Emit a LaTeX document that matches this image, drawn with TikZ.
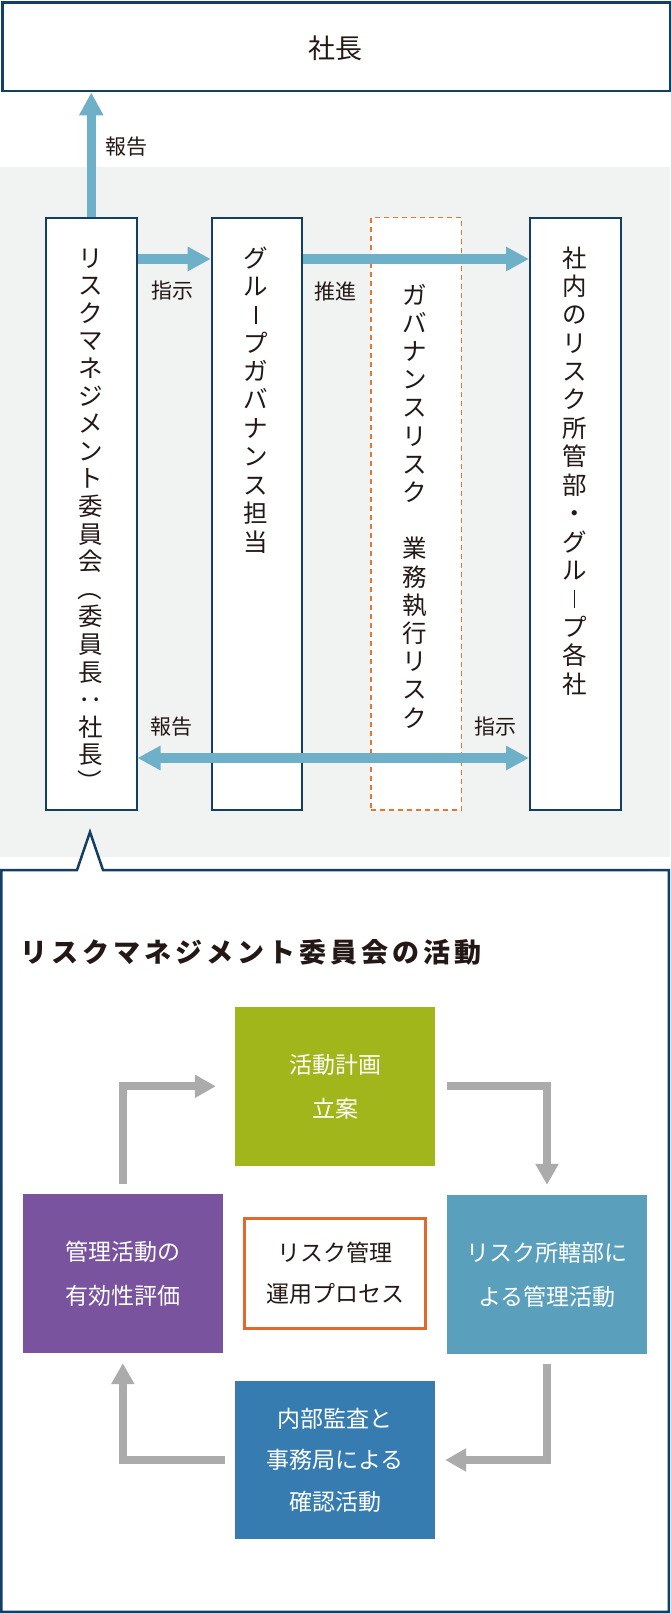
\documentclass[tikz,border=0pt]{standalone}
\usepackage{fontspec}
\usepackage{graphicx}
\setmainfont{Noto Sans CJK JP}
\usetikzlibrary{arrows.meta}

\definecolor{navy}{HTML}{123F63}
\definecolor{arrowblue}{HTML}{6EB0C8}
\definecolor{dashorange}{HTML}{E8772E}
\definecolor{panelgray}{HTML}{F1F3F2}
\definecolor{cgreen}{HTML}{A0B61A}
\definecolor{cpurple}{HTML}{7A539E}
\definecolor{cteal}{HTML}{5AA0BD}
\definecolor{cblue}{HTML}{367CB0}
\definecolor{cgrayarrow}{HTML}{ABABAB}
\definecolor{corange}{HTML}{E2692A}
\definecolor{ink}{HTML}{231815}

\ExplSyntaxOn
\NewDocumentCommand \vtext { m m }
  {
    \vtop
      {
        \skip_set:Nn \baselineskip {#1}
        \skip_set:Nn \lineskip {0pt}
        \dim_set:Nn \lineskiplimit {-\maxdimen}
        \tl_map_inline:nn {#2} { \hbox_to_wd:nn {1em} { \hss ##1 \hss } }
      }
  }
\NewDocumentCommand \tracked { m m }
  {
    \hbox:n { \tl_map_inline:nn {#2} { \hbox_to_wd:nn {#1} { \hss ##1 \hss } } }
  }
\ExplSyntaxOff

\newcommand{\rot}[1]{\rotatebox[origin=c]{-90}{#1}}
\newcommand{\vbar}{\rule[0.3pt]{1.4pt}{18pt}}

\begin{document}
\begin{tikzpicture}[x=1pt,y=-1pt,
  vbox/.style={draw=navy, line width=2pt, fill=white, minimum width=90.5pt,
    minimum height=592.6pt, anchor=north west, inner sep=0pt},
  vt/.style={anchor=base, inner sep=0pt, text=ink, font=\fontsize{24.5}{28}\selectfont},
  lbl/.style={inner sep=0pt, text=ink, font=\fontsize{21}{25}\selectfont},
  barrow/.style={draw=arrowblue, line width=9.5pt, -{Triangle[length=23pt,width=23pt]}},
  barrow2/.style={draw=arrowblue, line width=9.5pt, {Triangle[length=23pt,width=23pt]}-{Triangle[length=23pt,width=23pt]}},
  cbox/.style={minimum width=200pt, minimum height=159pt, inner sep=0pt, text=white,
    align=center, font=\fontsize{23}{44}\selectfont},
  garrow/.style={draw=cgrayarrow, line width=8pt, -{Triangle[length=21pt,width=22pt]}}
]
\useasboundingbox (0,0) rectangle (670,1613);

% grey panel
\fill[panelgray] (0,167) rectangle (670,857);

% top box
\node[draw=navy, line width=2.5pt, fill=white, minimum width=667.5pt, minimum height=88.75pt,
  anchor=north west, inner sep=0pt] (ceo) at (1.25,1.25) {};
\node[inner sep=0pt, text=ink, font=\fontsize{27}{32}\selectfont] (ceotext) at (335,48) {社長};

% vertical boxes
\node[vbox] (b1) at (45,216.7) {};
\node[vbox] (b2) at (210.7,216.7) {};
\node[vbox, draw=dashorange, dash pattern=on 5pt off 4pt, line width=1.8pt] (b3) at (370,216.7) {};
\node[vbox] (b4) at (529,216.7) {};

\node[vt] (t1) at (90.25,267) {\vtext{27.6pt}{リスクマネジメント委員会{\rot{（}}委員長{\rot{：}}社長{\rot{）}}}};
\node[vt] (t2) at (256,267) {\vtext{28.4pt}{グル{\vbar}プガバナンス担当}};
\node[vt] (t3) at (415,304) {\vtext{28.2pt}{ガバナンスリスク　業務執行リスク}};
\node[vt] (t4) at (574.25,267) {\vtext{28.4pt}{社内のリスク所管部・グル{\vbar}プ各社}};

% labels
\node[lbl] (l1) at (126,147) {報告};
\node[lbl] (l2) at (172,291) {指示};
\node[lbl] (l3) at (335,291) {推進};
\node[lbl] (l4) at (171,727) {報告};
\node[lbl] (l5) at (495,727) {指示};

% blue arrows
\coordinate (ya) at (0,259);
\coordinate (yb) at (0,758);
\draw[barrow] (b1.north) -- (b1.north |- ceo.south);
\draw[barrow] (b1.east |- ya) -- (b2.west |- ya);
\draw[barrow] (b2.east |- ya) -- (b4.west |- ya);
\draw[barrow2] (b1.east |- yb) -- (b4.west |- yb);

% callout panel
\draw[navy, line width=2.5pt, fill=white] (1.25,870) -- (77,870) -- (90,832) -- (103,870)
  -- (668.75,870) -- (668.75,1611.75) -- (1.25,1611.75) -- cycle;

\node[anchor=west, inner sep=0pt, text=ink, font=\bfseries\fontsize{27}{31}\selectfont] (title)
  at (18,952) {\tracked{31pt}{リスクマネジメント委員会の活動}};

% cycle boxes
\node[cbox, fill=cgreen] (plan) at (335,1086.3) {活動計画\\立案};
\node[cbox, fill=cpurple, minimum width=200.4pt] (eval) at (122.8,1273.5) {管理活動の\\有効性評価};
\node[cbox, fill=cteal] (dept) at (547,1274.5) {リスク所轄部に\\よる管理活動};
\node[cbox, fill=cblue, minimum height=158pt, font=\fontsize{23}{41.5}\selectfont] (audit)
  at (335,1460) {内部監査と\\事務局による\\確認活動};
\node[draw=corange, line width=3pt, fill=white, minimum width=181pt, minimum height=110pt,
  inner sep=0pt, text=ink, align=center, font=\fontsize{23}{41}\selectfont] (proc)
  at (335,1273.5) {リスク管理\\運用プロセス};

% grey cycle arrows
\draw[garrow, shorten <=10pt, shorten >=19pt] (eval.north) |- (plan.west);
\draw[garrow, shorten <=12pt, shorten >=10pt] (plan.east) -| (dept.north);
\draw[garrow, shorten <=10pt, shorten >=10pt] (dept.south) |- (audit.east);
\draw[garrow, shorten <=10pt, shorten >=10pt] (audit.west) -| (eval.south);
\end{tikzpicture}
\end{document}
